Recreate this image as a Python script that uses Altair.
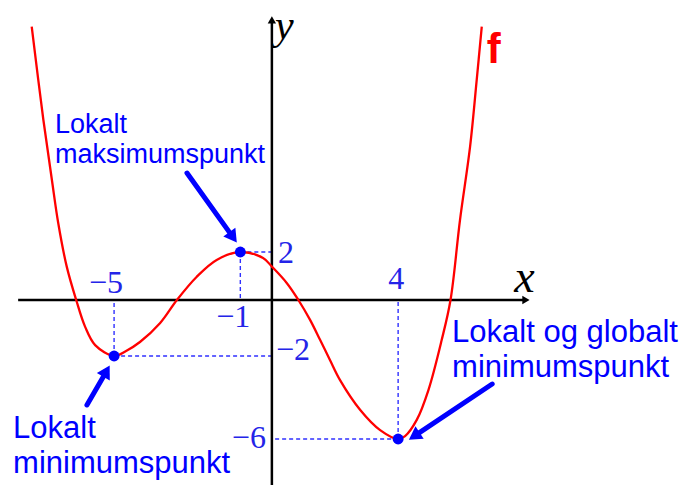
import altair as alt
import pandas as pd

# ---- data ----
curve_x = [-7.61, -7.24, -6.97, -6.77, -6.50, -6.20, -5.92, -5.60, -5.00, -4.62, -4.18, -3.54,
           -3.01, -2.38, -1.75, -1.00, -0.28, 0.00, 0.47, 0.84, 1.21, 1.53, 1.84, 2.16, 2.80,
           3.43, 4.00, 4.22, 4.59, 4.96, 5.38, 5.66, 5.96, 6.28, 6.49, 6.65]
curve_y = [11.39, 7.50, 5.00, 3.21, 1.39, 0.00, -0.95, -1.61, -2.00, -1.82, -1.50, -0.82,
           0.00, 0.97, 1.67, 2.00, 1.75, 1.39, 0.71, 0.00, -0.71, -1.43, -2.19, -3.16, -4.60,
           -5.57, -6.00, -5.86, -5.08, -3.64, -1.43, 0.00, 3.33, 6.39, 9.17, 11.39]

point_x = [-5, -1, 4]
point_y = [-2, 2, -6]

tick_text = ["\u22125", "\u22121", "4", "2", "\u22122", "\u22126"]
tick_x = [-5, -1, 4, 0, 0, 0]
tick_y = [0, 0, 0, 2, -2, -6]

label_text = ["Lokalt\nmaksimumspunkt", "Lokalt\nminimumspunkt", "Lokalt og globalt\nminimumspunkt"]
label_x = [-6.87, -8.20, 5.71]
label_y = [6.96, -5.97, -1.49]

arrow_x = [-2.69, -5.86, 6.98]
arrow_y = [5.29, -4.36, -3.35]
arrow_x2 = [-1.23, -5.24, 4.51]
arrow_y2 = [2.61, -2.73, -5.86]
arrow_angle = [144.5, 29.9, 236.3]

axis_x_range = [-8.04, 8.05]
axis_y_range = [-8.3, 11.67]

# ---- scales ----
xs = alt.Scale(domain=[-8.3613, 13.153], zero=False, nice=False)
ys = alt.Scale(domain=[-8.217, -6, -2, 0, 2, 12], range=[477, 431, 348, 292, 244, 4],
               zero=False, nice=False)

X = lambda f="x": alt.X(f"{f}:Q", scale=xs, axis=None)
Y = lambda f="y": alt.Y(f"{f}:Q", scale=ys, axis=None)

BLUE = "#0000ff"
TICKBLUE = "#2424e8"

# axes
xaxis_df = pd.DataFrame({"x": [axis_x_range[0]], "x2": [axis_x_range[1]], "y": [0]})
yaxis_df = pd.DataFrame({"x": [0], "y": [axis_y_range[0]], "y2": [axis_y_range[1]]})
xaxis = alt.Chart(xaxis_df).mark_rule(color="black", strokeWidth=2.5).encode(
    x=X(), x2="x2:Q", y=Y())
yaxis = alt.Chart(yaxis_df).mark_rule(color="black", strokeWidth=2.5).encode(
    x=X(), y=Y(), y2="y2:Q")
xhead = alt.Chart(pd.DataFrame({"x": [axis_x_range[1]], "y": [0]})).mark_point(
    shape="triangle-right", filled=True, color="black", size=70, opacity=1).encode(x=X(), y=Y())
yhead = alt.Chart(pd.DataFrame({"x": [0], "y": [axis_y_range[1]]})).mark_point(
    shape="triangle-up", filled=True, color="black", size=70, opacity=1).encode(x=X(), y=Y())

# dashed guides
pts = pd.DataFrame({"x": point_x, "y": point_y, "zero": [0] * 3})
vguide = alt.Chart(pts).mark_rule(color="#3030ff", strokeWidth=1.4, strokeDash=[4, 3]).encode(
    x=X(), y=Y(), y2="zero:Q")
hguide = alt.Chart(pts).mark_rule(color="#3030ff", strokeWidth=1.4, strokeDash=[4, 3]).encode(
    x=X(), x2="zero:Q", y=Y())

# curve
curve_df = pd.DataFrame({"x": curve_x, "y": curve_y})
curve = alt.Chart(curve_df).mark_line(color="#ff0000", strokeWidth=2.3,
                                      interpolate="catmull-rom").encode(x=X(), y=Y())

dots = alt.Chart(pts).mark_circle(color=BLUE, size=120, opacity=1).encode(x=X(), y=Y())

# annotation arrows
arr_df = pd.DataFrame({"x": arrow_x, "y": arrow_y, "x2": arrow_x2, "y2": arrow_y2,
                       "angle": arrow_angle})
arr_line = alt.Chart(arr_df).mark_rule(color=BLUE, strokeWidth=5, strokeCap="round").encode(
    x=X(), y=Y(), x2="x2:Q", y2="y2:Q")
arr_head = alt.Chart(arr_df).mark_point(shape="triangle-up", filled=True, color=BLUE,
                                        size=220, opacity=1).encode(
    x=X("x2"), y=Y("y2"), angle=alt.Angle("angle:Q", scale=None))

# tick labels
tick_df = pd.DataFrame({"t": tick_text, "x": tick_x, "y": tick_y})
tick_specs = [
    dict(align="center", dx=-8, dy=-7),
    dict(align="center", dx=-7, dy=27),
    dict(align="center", dx=-2, dy=-11),
    dict(align="left", dx=6, dy=11),
    dict(align="left", dx=4, dy=4),
    dict(align="right", dx=-6, dy=9),
]
tick_layers = []
for i, spec in enumerate(tick_specs):
    tick_layers.append(
        alt.Chart(tick_df.iloc[[i]]).mark_text(font="Liberation Serif", fontSize=32,
                                               color=TICKBLUE, baseline="alphabetic",
                                               **spec).encode(x=X(), y=Y(), text="t:N"))

# axis names and function name
xname = alt.Chart(pd.DataFrame({"x": [8.0], "y": [0], "t": ["x"]})).mark_text(
    font="Liberation Serif", fontStyle="italic", fontSize=46, color="black",
    align="center", baseline="alphabetic", dy=-8).encode(x=X(), y=Y(), text="t:N")
yname = alt.Chart(pd.DataFrame({"x": [0], "y": [axis_y_range[1]], "t": ["y"]})).mark_text(
    font="Liberation Serif", fontStyle="italic", fontSize=42, color="black",
    align="left", baseline="alphabetic", dx=3, dy=19).encode(x=X(), y=Y(), text="t:N")
fname = alt.Chart(pd.DataFrame({"x": [curve_x[-1]], "y": [curve_y[-1]], "t": ["f"]})).mark_text(
    font="Liberation Sans", fontWeight="bold", fontSize=42, color="#ff0000",
    align="left", baseline="alphabetic", dx=5, dy=36).encode(x=X(), y=Y(), text="t:N")

# blue labels
lab_df = pd.DataFrame({"t": label_text, "x": label_x, "y": label_y})
lab_specs = [dict(fontSize=27, lineHeight=30), dict(fontSize=31, lineHeight=35),
             dict(fontSize=31, lineHeight=35)]
lab_layers = []
for i, spec in enumerate(lab_specs):
    lab_layers.append(
        alt.Chart(lab_df.iloc[[i]]).mark_text(font="Liberation Sans", color=BLUE, align="left",
                                              baseline="alphabetic", lineBreak="\n",
                                              **spec).encode(x=X(), y=Y(), text="t:N"))

chart = alt.layer(
    vguide, hguide, xaxis, yaxis, xhead, yhead, curve, arr_line, arr_head, dots,
    *tick_layers, xname, yname, fname, *lab_layers
).properties(
    width=679, height=477, autosize=alt.AutoSizeParams(type="none"), padding=0,
    background="white"
).configure_view(stroke=None)

chart.save("out.html", embed_options={"renderer": "svg", "actions": False})
